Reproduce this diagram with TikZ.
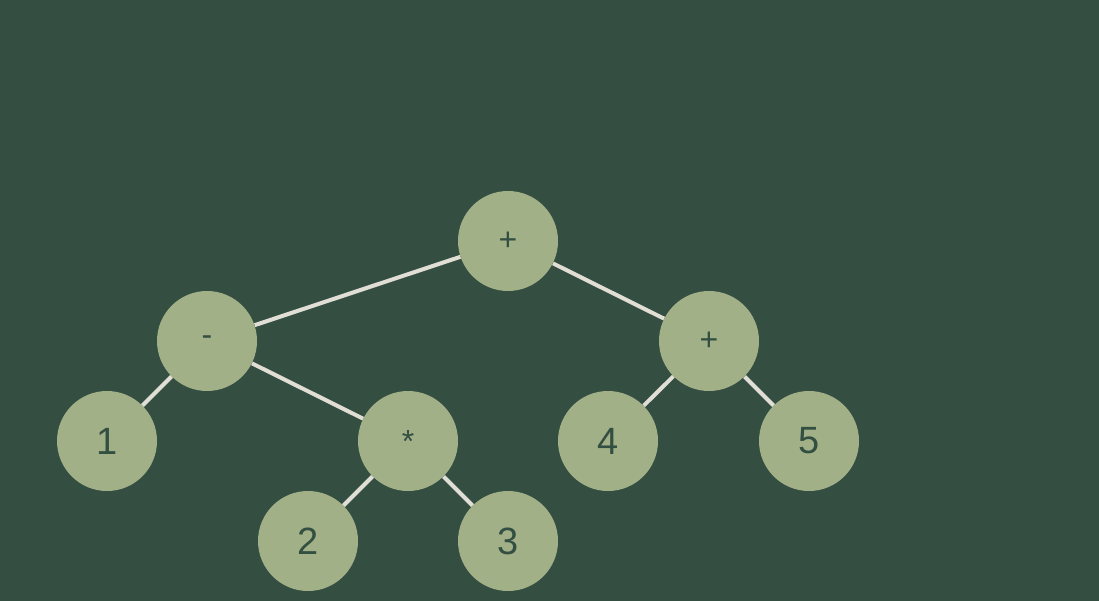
\documentclass[tikz,border=0pt]{standalone}
\usepackage{fontspec}
\setmainfont{Liberation Sans}
\definecolor{bgc}{HTML}{344F42}
\definecolor{nodec}{HTML}{A2B088}
\definecolor{txtc}{HTML}{334F41}
\definecolor{edgec}{HTML}{E1DED6}
\begin{document}
\begin{tikzpicture}[x=1pt,y=-1pt,
  tn/.style={circle,fill=nodec,minimum size=100pt,inner sep=0pt,text=txtc},
  dig/.style={tn,font=\fontsize{38}{38}\selectfont},
  op/.style={tn,font=\fontsize{32}{32}\selectfont},
  edge/.style={draw=edgec,line width=4pt}]
\fill[bgc] (0,0) rectangle (1099,601);
\useasboundingbox (0,0) rectangle (1099,601);
\node[op] (r) at (508,241) {+};
\node[op] (m) at (207,341) {-};
\node[op] (p) at (709,341) {+};
\node[dig] (n1) at (107,441) {1};
\node[op] (s) at (408,441) {*};
\node[dig] (n4) at (608,441) {4};
\node[dig] (n5) at (809,441) {5};
\node[dig] (n2) at (308,541) {2};
\node[dig] (n3) at (508,541) {3};
\path[edge] (r) -- (m);
\path[edge] (r) -- (p);
\path[edge] (m) -- (n1);
\path[edge] (m) -- (s);
\path[edge] (s) -- (n2);
\path[edge] (s) -- (n3);
\path[edge] (p) -- (n4);
\path[edge] (p) -- (n5);
\end{tikzpicture}
\end{document}
